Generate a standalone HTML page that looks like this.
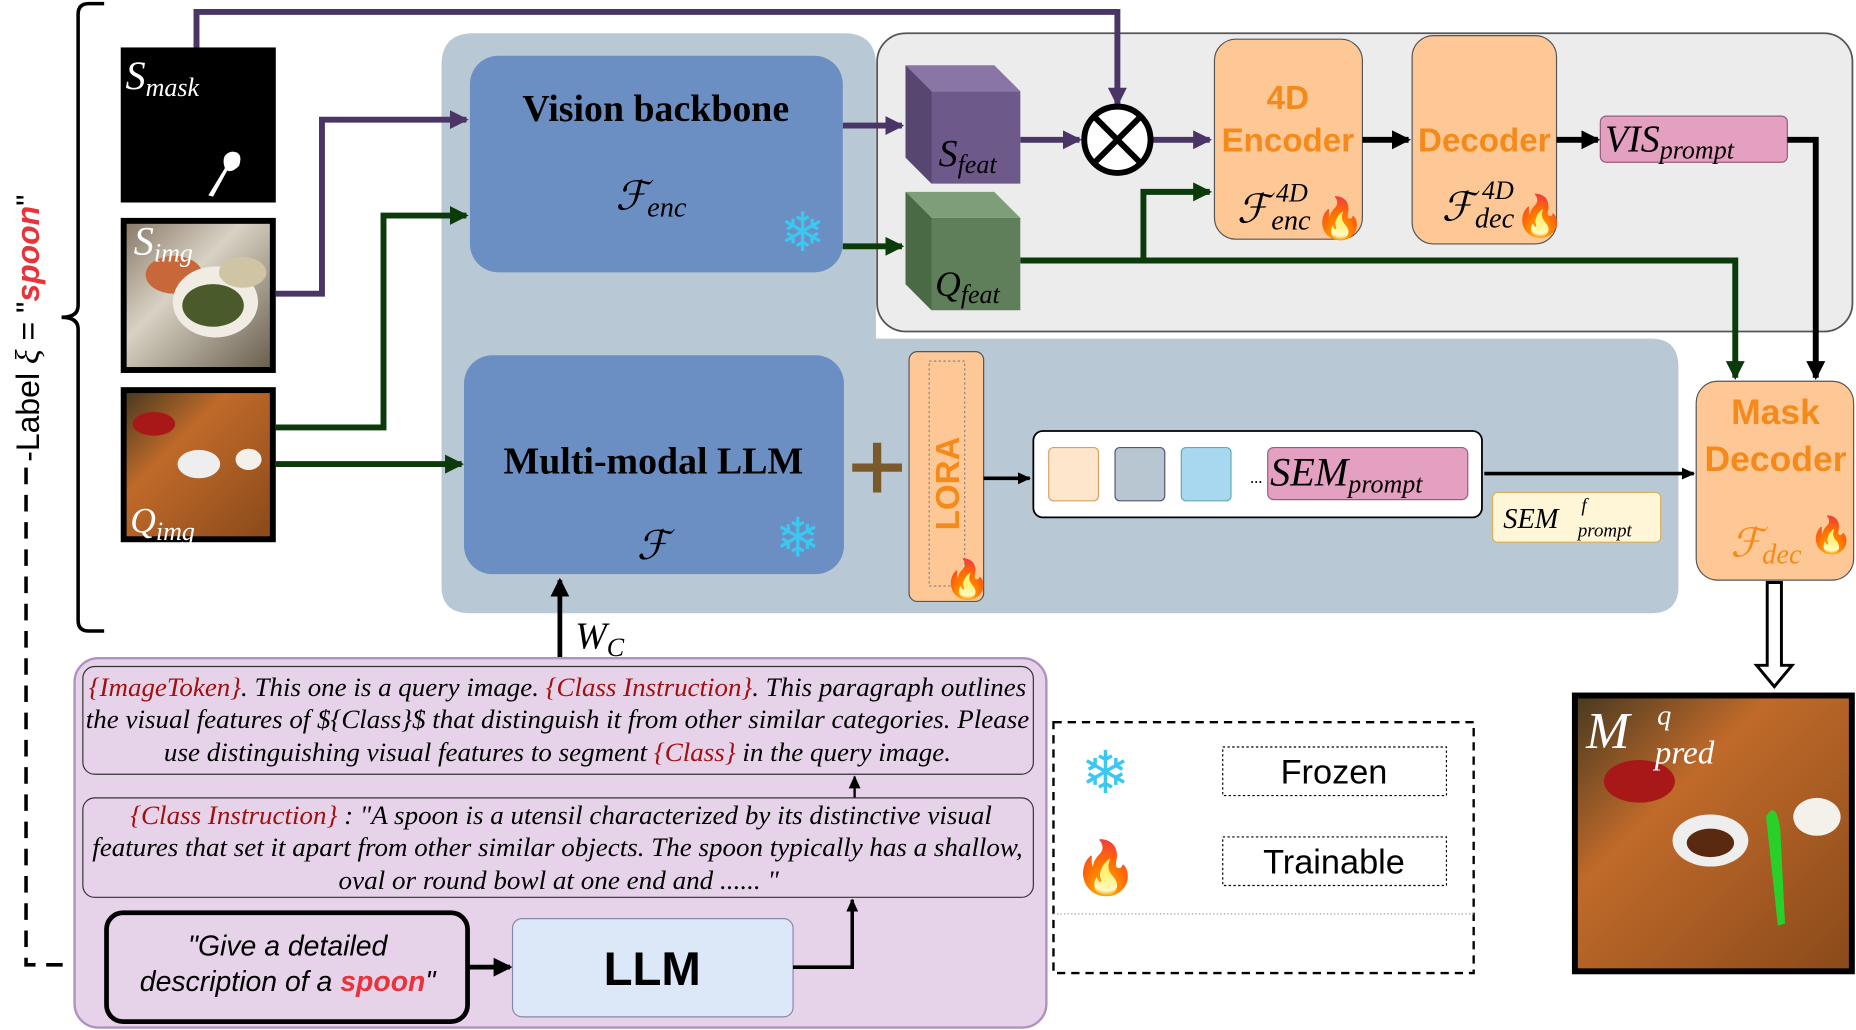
<!DOCTYPE html>
<html><head><meta charset="utf-8"><style>
html,body{margin:0;padding:0;background:#fff;}
svg{display:block;}
.it{font-family:"Liberation Serif",serif;font-style:italic;}
.sans{font-family:"Liberation Sans",sans-serif;}
.ser{font-family:"Liberation Serif",serif;}
</style></head><body>
<svg width="1856" height="1030" viewBox="0 0 1568 870" xmlns="http://www.w3.org/2000/svg">
<defs>
<marker id="ap" markerWidth="20" markerHeight="20" refX="14" refY="8" orient="auto" markerUnits="userSpaceOnUse"><path d="M0,0 L16,8 L0,16 Z" fill="#4a3566"/></marker>
<marker id="ag" markerWidth="20" markerHeight="20" refX="14" refY="8" orient="auto" markerUnits="userSpaceOnUse"><path d="M0,0 L16,8 L0,16 Z" fill="#0b3a0b"/></marker>
<marker id="ak" markerWidth="20" markerHeight="20" refX="14" refY="8" orient="auto" markerUnits="userSpaceOnUse"><path d="M0,0 L16,8 L0,16 Z" fill="#000"/></marker>
<marker id="ak2" markerWidth="12" markerHeight="12" refX="10" refY="5" orient="auto" markerUnits="userSpaceOnUse"><path d="M0,0 L11,5 L0,10 Z" fill="#000"/></marker>
<linearGradient id="food1" x1="0" y1="0" x2="1" y2="1"><stop offset="0" stop-color="#8a7a6a"/><stop offset=".4" stop-color="#d8d2c4"/><stop offset="1" stop-color="#6a6050"/></linearGradient>
<linearGradient id="food2" x1="0" y1="0" x2="1" y2="1"><stop offset="0" stop-color="#4a3a20"/><stop offset=".35" stop-color="#c06a2a"/><stop offset="1" stop-color="#8a4a1a"/></linearGradient>
</defs>

<path d="M400,28 H713 Q740,28 740,55 V286 H1395 Q1418,286 1418,310 V495 Q1418,518 1395,518 H397 Q373,518 373,495 V55 Q373,28 400,28 Z" fill="#b8c9d5"/>
<rect x="741" y="28" width="824" height="252" rx="24" fill="#ececec" stroke="#555" stroke-width="1.5"/>

<path d="M88,3 H75 Q66,3 66,12 V258 Q66,268 52,268 Q66,268 66,278 V524 Q66,533 75,533 H88" fill="none" stroke="#000" stroke-width="3"/>
<text transform="translate(33,390) rotate(-90)" class="sans" font-size="27" fill="#000">-Label <tspan class="it" font-size="29">ξ</tspan> = "<tspan fill="#e8333a" font-weight="bold" font-style="italic">spoon</tspan>"</text>
<path d="M22,395 V815 H62" fill="none" stroke="#000" stroke-width="3" stroke-dasharray="14,9"/>

<rect x="102" y="40" width="131" height="131" fill="#000"/>
<path d="M176,165 L190,142 Q186,130 196,128 Q206,128 202,140 Q196,146 192,144 L180,166 Z" fill="#fff"/>
<text x="106" y="75" class="it" fill="#fff" font-size="34">S<tspan font-size="22" dy="6">mask</tspan></text>

<rect x="102" y="184" width="131" height="131" fill="#000"/>
<rect x="107" y="189" width="121" height="121" fill="url(#food1)"/>
<ellipse cx="147" cy="232" rx="24" ry="16" fill="#c8673a"/>
<ellipse cx="182" cy="255" rx="36" ry="30" fill="#f0ece4"/>
<ellipse cx="180" cy="258" rx="26" ry="18" fill="#4a5a2a"/>
<ellipse cx="205" cy="230" rx="20" ry="13" fill="#cfc4a4"/>
<text x="113" y="215" class="it" fill="#fff" font-size="34">S<tspan font-size="22" dy="6">img</tspan></text>

<rect x="102" y="327" width="131" height="131" fill="#000"/>
<rect x="107" y="332" width="121" height="121" fill="url(#food2)"/>
<ellipse cx="130" cy="358" rx="18" ry="10" fill="#a81818"/>
<ellipse cx="168" cy="392" rx="18" ry="12" fill="#eee"/>
<ellipse cx="210" cy="388" rx="11" ry="9" fill="#f4f0ea"/>
<text x="110" y="450" class="it" fill="#fff" font-size="30">Q<tspan font-size="22" dy="6">img</tspan></text>

<path d="M166,40 V10 H944 V88" fill="none" stroke="#4a3566" stroke-width="5" marker-end="url(#ap)"/>
<path d="M233,248 H272 V101 H394" fill="none" stroke="#4a3566" stroke-width="5" marker-end="url(#ap)"/>
<path d="M712,106 H762" fill="none" stroke="#4a3566" stroke-width="5" marker-end="url(#ap)"/>
<path d="M862,118 H912" fill="none" stroke="#4a3566" stroke-width="5" marker-end="url(#ap)"/>
<path d="M974,118 H1022" fill="none" stroke="#4a3566" stroke-width="5" marker-end="url(#ap)"/>
<path d="M233,361 H324 V182 H394" fill="none" stroke="#0b3a0b" stroke-width="5" marker-end="url(#ag)"/>
<path d="M233,392 H390" fill="none" stroke="#0b3a0b" stroke-width="5" marker-end="url(#ag)"/>
<path d="M712,208 H762" fill="none" stroke="#0b3a0b" stroke-width="5" marker-end="url(#ag)"/>
<path d="M862,220 H1466 V319" fill="none" stroke="#0b3a0b" stroke-width="5" marker-end="url(#ag)"/>
<path d="M966,220 V162 H1022" fill="none" stroke="#0b3a0b" stroke-width="5" marker-end="url(#ag)"/>

<rect x="397" y="47" width="315" height="183" rx="24" fill="#6b8fc2"/>
<text x="554" y="102" text-anchor="middle" class="ser" font-weight="bold" font-size="32">Vision backbone</text>
<text x="520" y="177" class="it" font-size="34">ℱ<tspan font-size="24" dy="6">enc</tspan></text>
<text x="678" y="212" text-anchor="middle" font-size="46" fill="#3ac8f0" class="sans">❄</text>

<rect x="392" y="300" width="321" height="185" rx="24" fill="#6b8fc2"/>
<text x="552" y="400" text-anchor="middle" class="ser" font-weight="bold" font-size="32">Multi-modal LLM</text>
<text x="538" y="472" class="it" font-size="34">ℱ</text>
<text x="674" y="470" text-anchor="middle" font-size="46" fill="#3ac8f0" class="sans">❄</text>

<g>
<polygon points="765,55 840,55 862,77 787,77" fill="#8a76a6"/>
<polygon points="765,55 787,77 862,77 862,155 787,155 765,133" fill="#6d5a8a"/>
<polygon points="765,55 787,77 787,155 765,133" fill="#57466f"/>
<text x="793" y="140" class="it" font-size="32">S<tspan font-size="22" dy="6">feat</tspan></text>
</g>
<g>
<polygon points="765,162 840,162 862,184 787,184" fill="#7e9e78"/>
<polygon points="765,162 787,184 862,184 862,262 787,262 765,240" fill="#5f7f5a"/>
<polygon points="765,162 787,184 787,262 765,240" fill="#4a6a45"/>
<text x="790" y="250" class="it" font-size="30">Q<tspan font-size="22" dy="6">feat</tspan></text>
</g>

<circle cx="944" cy="118" r="28" fill="#fff" stroke="#000" stroke-width="5"/>
<path d="M924,98 L964,138 M964,98 L924,138" stroke="#000" stroke-width="5"/>

<rect x="1026" y="33" width="125" height="169" rx="18" fill="#fdc896" stroke="#555" stroke-width="1"/>
<text x="1088" y="92" text-anchor="middle" class="sans" font-weight="bold" font-size="28" fill="#f58a1a">4D</text>
<text x="1088" y="128" text-anchor="middle" class="sans" font-weight="bold" font-size="28" fill="#f58a1a">Encoder</text>
<text x="1045" y="188" class="it" font-size="34">ℱ</text>
<text x="1078" y="170" class="it" font-size="22">4D</text>
<text x="1074" y="194" class="it" font-size="24">enc</text>
<text x="1132" y="196" text-anchor="middle" font-size="34">🔥</text>
<path d="M1151,118 H1190" stroke="#000" stroke-width="5" marker-end="url(#ak)"/>

<rect x="1193" y="30" width="122" height="176" rx="18" fill="#fdc896" stroke="#555" stroke-width="1"/>
<text x="1254" y="128" text-anchor="middle" class="sans" font-weight="bold" font-size="28" fill="#f58a1a">Decoder</text>
<text x="1218" y="186" class="it" font-size="34">ℱ</text>
<text x="1252" y="168" class="it" font-size="22">4D</text>
<text x="1246" y="192" class="it" font-size="24">dec</text>
<text x="1301" y="194" text-anchor="middle" font-size="34">🔥</text>
<path d="M1315,118 H1350" stroke="#000" stroke-width="5" marker-end="url(#ak)"/>

<rect x="1352" y="98" width="158" height="39" rx="5" fill="#e3a0c0" stroke="#9a5a7a" stroke-width="1"/>
<text x="1356" y="128" class="it" font-size="32">VIS<tspan font-size="22" dy="6">prompt</tspan></text>
<path d="M1510,118 H1534 V319" fill="none" stroke="#000" stroke-width="5" marker-end="url(#ak)"/>

<path d="M741,374 V416 M720,395 H762" stroke="#7a5a2a" stroke-width="7"/>
<rect x="768" y="297" width="63" height="211" rx="7" fill="#fdc896" stroke="#555" stroke-width="1"/>
<rect x="785" y="305" width="30" height="190" fill="none" stroke="#888" stroke-width="1" stroke-dasharray="2,2"/>
<text transform="translate(810,448) rotate(-90)" class="sans" font-weight="bold" font-size="28" fill="#f58a1a">LORA</text>
<text x="817" y="500" text-anchor="middle" font-size="32">🔥</text>
<path d="M831,404 H870" stroke="#000" stroke-width="3" marker-end="url(#ak2)"/>

<rect x="873" y="364" width="379" height="73" rx="8" fill="#fff" stroke="#000" stroke-width="1.5"/>
<rect x="886" y="378" width="42" height="45" rx="4" fill="#fde6cc" stroke="#d9a060"/>
<rect x="942" y="378" width="42" height="45" rx="4" fill="#b8c6d2" stroke="#557"/>
<rect x="998" y="378" width="42" height="45" rx="4" fill="#a8d8f0" stroke="#6aa"/>
<text x="1056" y="408" font-size="14">...</text>
<rect x="1071" y="378" width="169" height="44" rx="5" fill="#e3a0c0" stroke="#9a5a7a"/>
<text x="1073" y="410" class="it" font-size="34">SEM<tspan font-size="22" dy="6">prompt</tspan></text>
<path d="M1254,400 H1431" stroke="#000" stroke-width="3" marker-end="url(#ak2)"/>
<rect x="1261" y="416" width="142" height="42" rx="4" fill="#fff6d8" stroke="#d9b060"/>
<text x="1270" y="446" class="it" font-size="24">SEM</text>
<text x="1336" y="432" class="it" font-size="16">f</text>
<text x="1333" y="453" class="it" font-size="16">prompt</text>

<rect x="1433" y="322" width="133" height="168" rx="18" fill="#fdc896" stroke="#555" stroke-width="1"/>
<text x="1500" y="358" text-anchor="middle" class="sans" font-weight="bold" font-size="30" fill="#f58a1a">Mask</text>
<text x="1500" y="398" text-anchor="middle" class="sans" font-weight="bold" font-size="30" fill="#f58a1a">Decoder</text>
<text x="1462" y="470" class="it" font-size="34" fill="#f58a1a">ℱ<tspan font-size="24" dy="6">dec</tspan></text>
<text x="1547" y="462" text-anchor="middle" font-size="30">🔥</text>
<path d="M1493,492 V562 H1484 L1499,580 L1514,562 H1505 V492 Z" fill="#fff" stroke="#000" stroke-width="2.5"/>

<rect x="1328" y="585" width="239" height="238" fill="#000"/>
<rect x="1333" y="590" width="229" height="228" fill="url(#food2)"/>
<ellipse cx="1385" cy="660" rx="30" ry="18" fill="#a81818"/>
<ellipse cx="1445" cy="710" rx="32" ry="22" fill="#eee"/>
<ellipse cx="1445" cy="712" rx="20" ry="12" fill="#5a2a10"/>
<ellipse cx="1535" cy="690" rx="20" ry="16" fill="#f4f0ea"/>
<path d="M1492,690 Q1500,675 1504,700 L1508,780 L1502,782 Z" fill="#2ad02a"/>
<text x="1340" y="632" class="it" fill="#fff" font-size="44">M</text>
<text x="1400" y="612" class="it" fill="#fff" font-size="24">q</text>
<text x="1398" y="645" class="it" fill="#fff" font-size="28">pred</text>

<path d="M473,555 V490" stroke="#000" stroke-width="4" marker-end="url(#ak)"/>
<text x="486" y="548" class="it" font-size="32">W<tspan font-size="22" dy="6">C</tspan></text>

<rect x="63" y="556" width="821" height="312" rx="20" fill="#e6d3e9" stroke="#b090c0" stroke-width="2"/>
<rect x="70" y="563" width="803" height="91" rx="10" fill="#e6d3e9" stroke="#333" stroke-width="1"/>
<g class="it" font-size="22.6" text-anchor="middle" lengthAdjust="spacingAndGlyphs">
<text x="471" y="588" textLength="792" lengthAdjust="spacingAndGlyphs"><tspan fill="#a01010">{ImageToken}</tspan>. This one is a query image. <tspan fill="#a01010">{Class Instruction}</tspan>. This paragraph outlines</text>
<text x="471" y="615" textLength="797" lengthAdjust="spacingAndGlyphs">the visual features of ${Class}$ that distinguish it from other similar categories. Please</text>
<text x="471" y="643" textLength="665" lengthAdjust="spacingAndGlyphs">use distinguishing visual features to segment <tspan fill="#a01010">{Class}</tspan> in the query image.</text>
</g>
<path d="M722,674 V656" stroke="#000" stroke-width="2" marker-end="url(#ak2)"/>
<rect x="70" y="674" width="803" height="84" rx="10" fill="#e6d3e9" stroke="#333" stroke-width="1"/>
<g class="it" font-size="22.6" text-anchor="middle">
<text x="474" y="696" textLength="728" lengthAdjust="spacingAndGlyphs"><tspan fill="#a01010">{Class Instruction}</tspan> : "A spoon is a utensil characterized by its distinctive visual</text>
<text x="471" y="723" textLength="786" lengthAdjust="spacingAndGlyphs">features that set it apart from other similar objects. The spoon typically has a shallow,</text>
<text x="472" y="751" textLength="372" lengthAdjust="spacingAndGlyphs">oval or round bowl at one end and ...... "</text>
</g>
<rect x="90" y="771" width="305" height="92" rx="14" fill="#e6d3e9" stroke="#000" stroke-width="4"/>
<text x="243" y="807" text-anchor="middle" class="sans" font-style="italic" font-size="24">"Give a detailed</text>
<text x="243" y="837" text-anchor="middle" class="sans" font-style="italic" font-size="24">description of a <tspan fill="#e8333a" font-weight="bold">spoon</tspan>"</text>
<path d="M395,817 H431" stroke="#000" stroke-width="4" marker-end="url(#ak)"/>
<rect x="433" y="776" width="237" height="83" rx="8" fill="#dce8f8" stroke="#88a" stroke-width="1"/>
<text x="551" y="832" text-anchor="middle" class="sans" font-weight="bold" font-size="40">LLM</text>
<path d="M670,817 H720 V760" fill="none" stroke="#000" stroke-width="3" marker-end="url(#ak2)"/>

<rect x="890" y="610" width="355" height="212" fill="none" stroke="#000" stroke-width="2" stroke-dasharray="7,5"/>
<line x1="890" y1="772" x2="1245" y2="772" stroke="#999" stroke-width="1" stroke-dasharray="1,2"/>
<text x="934" y="670" text-anchor="middle" font-size="50" fill="#3ac8f0" class="sans">❄</text>
<rect x="1033" y="631" width="189" height="41" fill="none" stroke="#000" stroke-width="1" stroke-dasharray="2,2"/>
<text x="1127" y="662" text-anchor="middle" class="sans" font-size="29">Frozen</text>
<text x="934" y="748" text-anchor="middle" font-size="44">🔥</text>
<rect x="1033" y="707" width="189" height="41" fill="none" stroke="#000" stroke-width="1" stroke-dasharray="2,2"/>
<text x="1127" y="738" text-anchor="middle" class="sans" font-size="29">Trainable</text>
</svg>
</body></html>
